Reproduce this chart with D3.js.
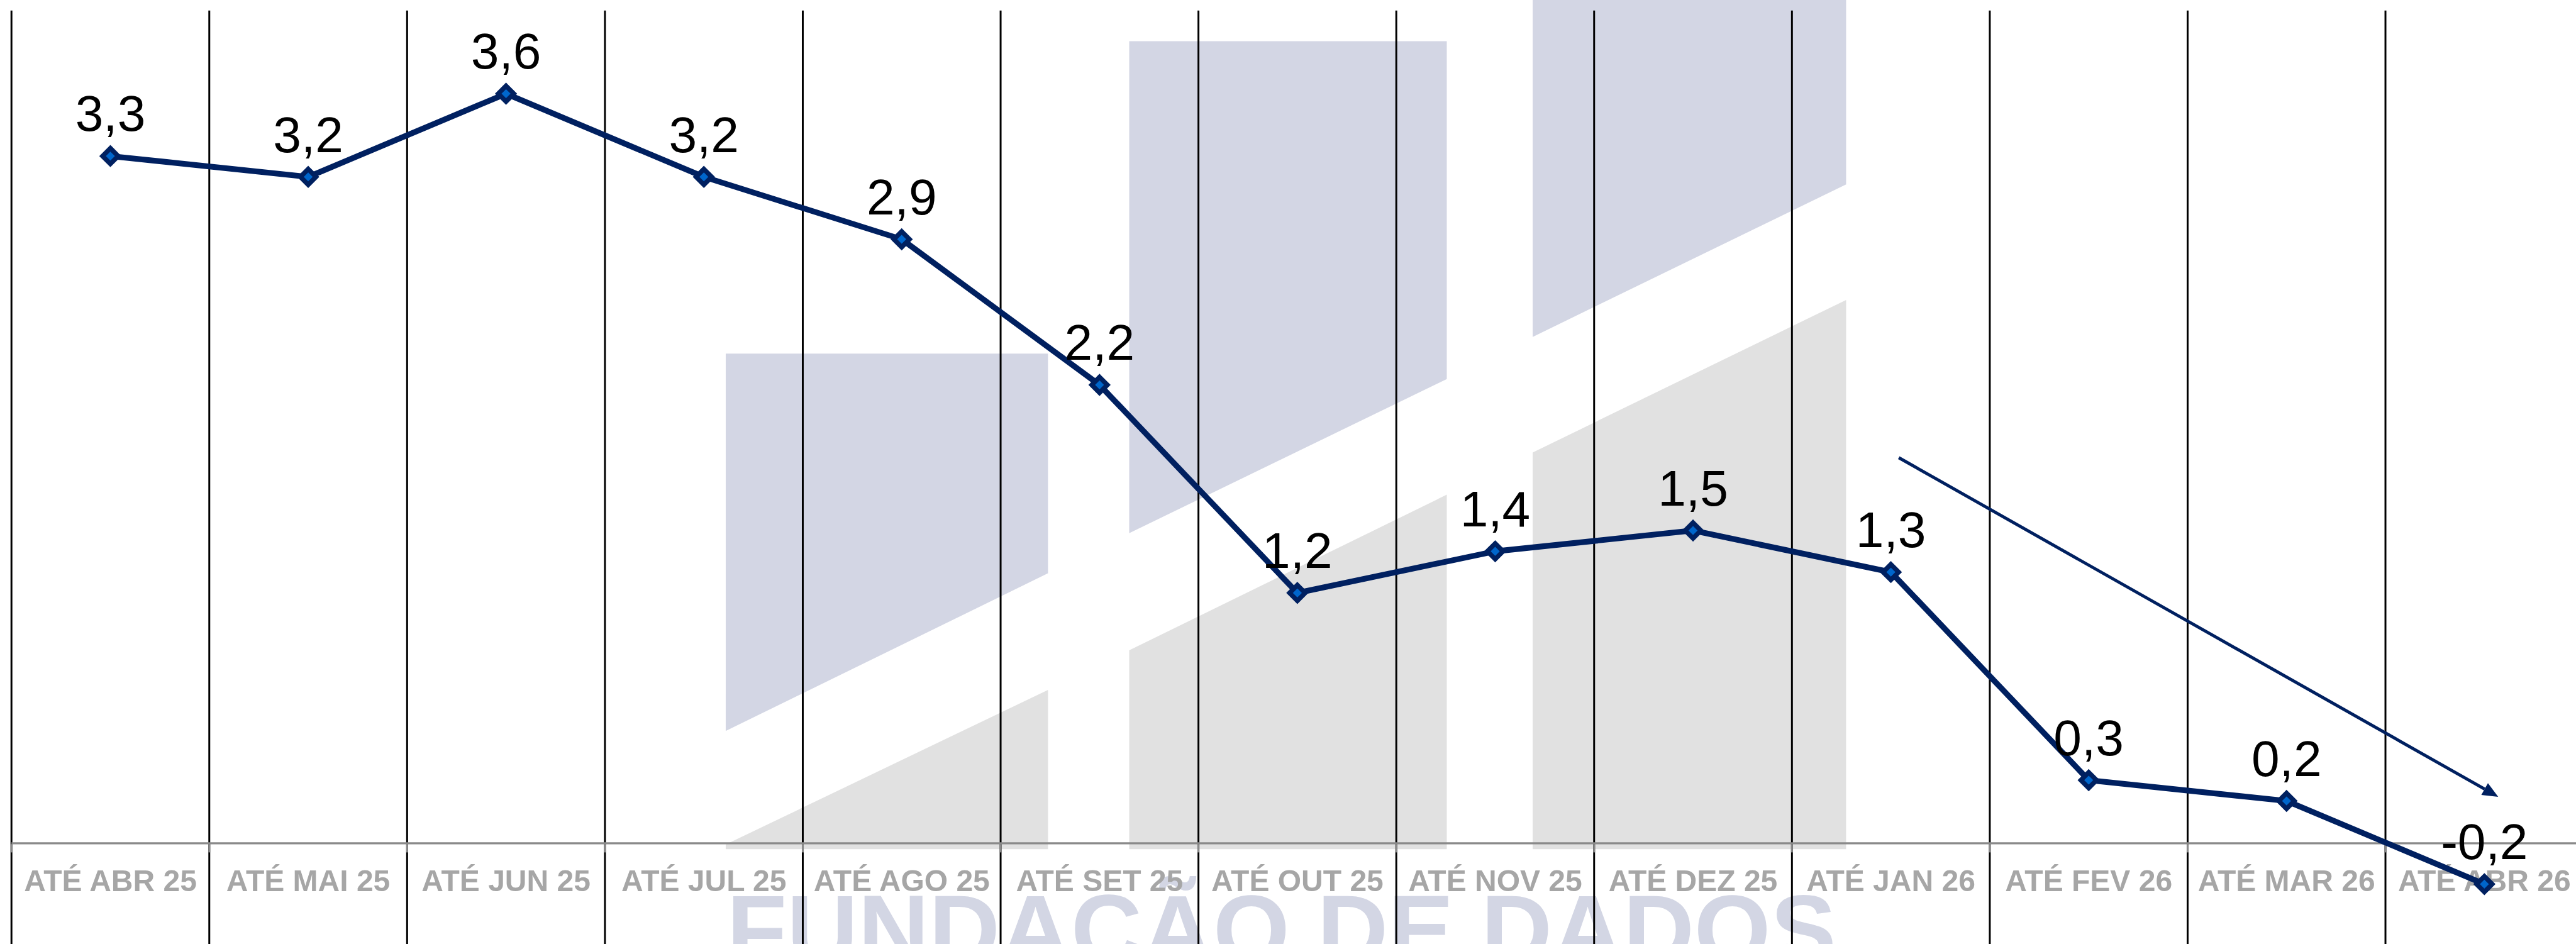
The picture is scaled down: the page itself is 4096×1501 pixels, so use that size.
<!DOCTYPE html>
<html>
<head>
<meta charset="utf-8">
<script src="https://cdn.jsdelivr.net/npm/d3@7"></script>
<style>
  html, body { margin: 0; padding: 0; background: #ffffff; overflow: hidden; }
  svg { display: block; }
</style>
</head>
<body>
<svg id="chart" width="4096" height="1501" viewBox="0 0 4948 1813"></svg>
<script>
// categories (x axis)
var categories = ["ATÉ ABR 25", "ATÉ MAI 25", "ATÉ JUN 25", "ATÉ JUL 25", "ATÉ AGO 25", "ATÉ SET 25",
  "ATÉ OUT 25", "ATÉ NOV 25", "ATÉ DEZ 25", "ATÉ JAN 26", "ATÉ FEV 26", "ATÉ MAR 26", "ATÉ ABR 26"];
// series values
var values = [3.3, 3.2, 3.6, 3.2, 2.9, 2.2, 1.2, 1.4, 1.5, 1.3, 0.3, 0.2, -0.2];
// y range of the plot
var yDomain = [-0.5, 4];
// trend arrow, in category index / value units
var arrowFrom = [9.04, 1.85];
var arrowTo = [12.07, 0.22];

// drawing is done in the reference's own units, the viewBox shrinks it to the window
var svg = d3.select("#chart");
var plotLeft = 22, bandW = 380, plotTop = 20, plotBottom = 1818;
var navy = "#002060";

var x = d3.scaleBand().domain(categories).range([plotLeft, plotLeft + bandW * categories.length]).padding(0);
var y = d3.scaleLinear().domain(yDomain).range([plotBottom, plotTop]);
// index scale for the annotation arrow
var xi = d3.scaleLinear().domain([0, categories.length - 1])
  .range([x(categories[0]) + x.bandwidth() / 2, x(categories[categories.length - 1]) + x.bandwidth() / 2]);

var fmt = function(v){ return d3.format(".1f")(v).replace(".", ",").replace("−", "-"); };

//// watermark logo behind the chart
var logo = svg.append("g").attr("class", "logo");
var lavender = "#d3d6e4", lightGray = "#e1e1e1";
var logoShapes = [
  {c: lavender, p: [[1394,679],[2013,679],[2013,1101],[1394,1404]]},
  {c: lightGray, p: [[1394,1622],[2013,1325],[2013,1631],[1394,1631]]},
  {c: lavender, p: [[2169,79],[2779,79],[2779,728],[2169,1024]]},
  {c: lightGray, p: [[2169,1249],[2779,950],[2779,1631],[2169,1631]]},
  {c: lavender, p: [[2944,-10],[3546,-10],[3546,354],[2944,647]]},
  {c: lightGray, p: [[2944,869],[3546,576],[3546,1631],[2944,1631]]}
];
logo.selectAll("polygon").data(logoShapes).enter().append("polygon")
  .attr("points", function(d){ return d.p.map(function(q){ return q.join(","); }).join(" "); })
  .attr("fill", function(d){ return d.c; });
logo.append("text")
  .attr("x", 1396).attr("y", 1850)
  .attr("font-family", "'Liberation Sans', Arial, sans-serif")
  .attr("font-weight", "bold")
  .attr("font-size", 189)
  .attr("fill", lavender)
  .text("FUNDAÇÃO DE DADOS");

//// vertical gridlines at the band edges
svg.append("g").selectAll("line").data(categories).enter().append("line")
  .attr("x1", function(d){ return x(d); }).attr("x2", function(d){ return x(d); })
  .attr("y1", plotTop).attr("y2", 1813)
  .attr("stroke", "#000").attr("stroke-width", 3.6);

//// zero line and ticks
svg.append("line")
  .attr("x1", plotLeft).attr("x2", 4948)
  .attr("y1", y(0) + 1.5).attr("y2", y(0) + 1.5)
  .attr("stroke", "#8a8a8a").attr("stroke-width", 4);
svg.append("g").selectAll("line").data(categories).enter().append("line")
  .attr("x1", function(d){ return x(d); }).attr("x2", function(d){ return x(d); })
  .attr("y1", y(0) + 3).attr("y2", y(0) + 19)
  .attr("stroke", "#8a8a8a").attr("stroke-width", 3.6);

//// category labels
var xAxis = svg.append("g")
  .attr("transform", "translate(0," + y(0) + ")")
  .call(d3.axisBottom(x).tickSize(0));
xAxis.select(".domain").remove();
xAxis.selectAll("text")
  .attr("y", 93).attr("dy", 0)
  .attr("font-family", "'Liberation Sans', Arial, sans-serif")
  .attr("font-weight", "bold")
  .attr("font-size", 58)
  .attr("fill", "#a6a6a6");

//// series line
var line = d3.line()
  .x(function(d, i){ return x(categories[i]) + x.bandwidth() / 2; })
  .y(function(d){ return y(d); });
svg.append("path").datum(values)
  .attr("d", line)
  .attr("fill", "none")
  .attr("stroke", navy)
  .attr("stroke-width", 11)
  .attr("stroke-linejoin", "round");

//// diamond markers
var r = 15;
svg.append("g").selectAll("path").data(values).enter().append("path")
  .attr("transform", function(d, i){ return "translate(" + (x(categories[i]) + x.bandwidth() / 2) + "," + y(d) + ")"; })
  .attr("d", "M0," + (-r) + "L" + r + ",0L0," + r + "L" + (-r) + ",0Z")
  .attr("fill", "#0066cc")
  .attr("stroke", navy)
  .attr("stroke-width", 9);

//// data labels
svg.append("g").selectAll("text").data(values).enter().append("text")
  .attr("x", function(d, i){ return x(categories[i]) + x.bandwidth() / 2; })
  .attr("y", function(d){ return y(d) - 48; })
  .attr("text-anchor", "middle")
  .attr("font-family", "'Liberation Sans', Arial, sans-serif")
  .attr("font-size", 97)
  .attr("fill", "#000")
  .text(function(d){ return fmt(d); });

//// trend arrow
var ax0 = xi(arrowFrom[0]), ay0 = y(arrowFrom[1]);
var ax1 = xi(arrowTo[0]), ay1 = y(arrowTo[1]);
var ang = Math.atan2(ay1 - ay0, ax1 - ax0);
var headLen = 30, headHalf = 13;
var bx = ax1 - headLen * Math.cos(ang), by = ay1 - headLen * Math.sin(ang);
svg.append("line")
  .attr("x1", ax0).attr("y1", ay0).attr("x2", bx).attr("y2", by)
  .attr("stroke", navy).attr("stroke-width", 6);
svg.append("polygon")
  .attr("points", [
    [ax1, ay1],
    [bx + headHalf * Math.sin(ang), by - headHalf * Math.cos(ang)],
    [bx - headHalf * Math.sin(ang), by + headHalf * Math.cos(ang)]
  ].map(function(q){ return q.join(","); }).join(" "))
  .attr("fill", navy);
</script>
</body>
</html>
